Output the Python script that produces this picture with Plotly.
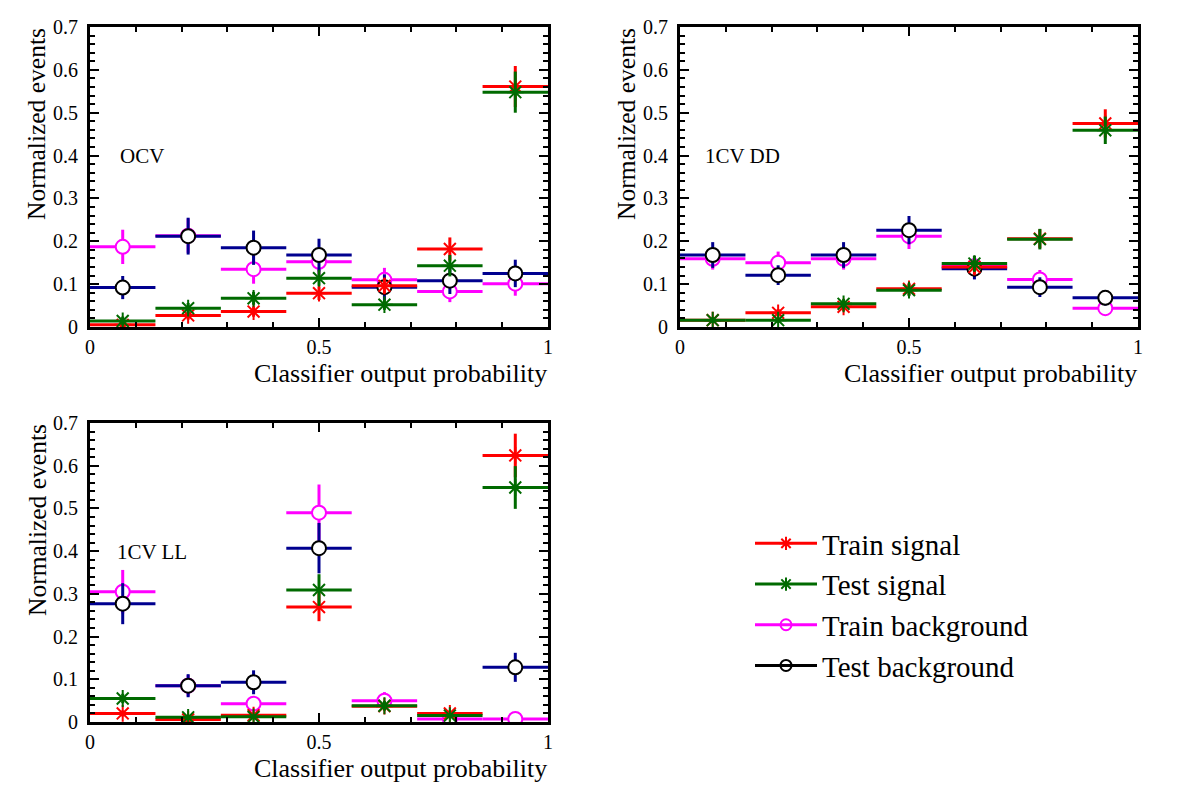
import numpy as np
import plotly.graph_objects as go

# ---------------- data ----------------
bin_edges = [0, 1/7, 2/7, 3/7, 4/7, 5/7, 6/7, 1]
panel_labels = ["OCV", "1CV DD", "1CV LL"]
series_names = ["Train signal", "Test signal", "Train background", "Test background"]

# OCV
ocv_train_sig = [0.005, 0.027, 0.036, 0.079, 0.096, 0.182, 0.561]
ocv_train_sig_err = [0.004, 0.010, 0.012, 0.016, 0.018, 0.027, 0.048]
ocv_test_sig = [0.014, 0.044, 0.067, 0.114, 0.052, 0.143, 0.548]
ocv_test_sig_err = [0.010, 0.012, 0.015, 0.018, 0.012, 0.025, 0.048]
ocv_train_bkg = [0.187, 0.213, 0.135, 0.152, 0.110, 0.083, 0.101]
ocv_train_bkg_err = [0.040, 0.040, 0.034, 0.032, 0.028, 0.025, 0.028]
ocv_test_bkg = [0.092, 0.212, 0.185, 0.168, 0.093, 0.108, 0.125]
ocv_test_bkg_err = [0.027, 0.043, 0.040, 0.038, 0.030, 0.031, 0.032]

# 1CV DD
dd_train_sig = [0.016, 0.033, 0.047, 0.089, 0.140, 0.206, 0.475]
dd_train_sig_err = [0.006, 0.009, 0.010, 0.014, 0.018, 0.022, 0.033]
dd_test_sig = [0.016, 0.016, 0.054, 0.086, 0.148, 0.205, 0.459]
dd_test_sig_err = [0.006, 0.006, 0.011, 0.014, 0.018, 0.024, 0.032]
dd_train_bkg = [0.159, 0.150, 0.159, 0.212, 0.142, 0.111, 0.044]
dd_train_bkg_err = [0.025, 0.026, 0.025, 0.030, 0.024, 0.022, 0.013]
dd_test_bkg = [0.168, 0.121, 0.168, 0.226, 0.136, 0.093, 0.068]
dd_test_bkg_err = [0.030, 0.023, 0.030, 0.033, 0.025, 0.023, 0.018]

# 1CV LL
ll_train_sig = [0.020, 0.006, 0.016, 0.269, 0.037, 0.020, 0.624]
ll_train_sig_err = [0.007, 0.004, 0.006, 0.033, 0.010, 0.007, 0.051]
ll_test_sig = [0.055, 0.011, 0.012, 0.309, 0.038, 0.015, 0.549]
ll_test_sig_err = [0.011, 0.005, 0.005, 0.037, 0.011, 0.006, 0.050]
ll_train_bkg = [0.305, 0.085, 0.043, 0.490, 0.050, 0.007, 0.007]
ll_train_bkg_err = [0.051, 0.025, 0.015, 0.066, 0.020, 0.005, 0.005]
ll_test_bkg = [0.277, 0.085, 0.093, 0.407, None, None, 0.128]
ll_test_bkg_err = [0.048, 0.027, 0.028, 0.059, 0, 0, 0.034]

panels = [
    (ocv_train_sig, ocv_train_sig_err, ocv_test_sig, ocv_test_sig_err,
     ocv_train_bkg, ocv_train_bkg_err, ocv_test_bkg, ocv_test_bkg_err),
    (dd_train_sig, dd_train_sig_err, dd_test_sig, dd_test_sig_err,
     dd_train_bkg, dd_train_bkg_err, dd_test_bkg, dd_test_bkg_err),
    (ll_train_sig, ll_train_sig_err, ll_test_sig, ll_test_sig_err,
     ll_train_bkg, ll_train_bkg_err, ll_test_bkg, ll_test_bkg_err),
]

# ---------------- styling ----------------
W, H = 1182, 796
FONT = "Liberation Serif"
RED = "#ff0000"
GREEN = "#006a00"
MAGENTA = "#ff00ff"
BLUE = "#00008f"
BLACK = "#000000"

edges = np.array(bin_edges)
centers = (edges[:-1] + edges[1:]) / 2
half_w = (edges[1] - edges[0]) / 2

def px_x(p):
    return p / W

def px_y(p):
    return 1 - p / H

# panel domains (pixels) and label offsets
dom = [
    dict(x=(90, 548), y=(27, 327), lab=28),
    dict(x=(680, 1138), y=(27, 327), lab=23),
    dict(x=(90, 548), y=(423, 722), lab=25),
]

fig = go.Figure()

def add_series(idx, y, err, symbol, mcolor, mfill, msize, ecolor):
    ax = "" if idx == 0 else str(idx + 1)
    fig.add_trace(go.Scatter(
        x=centers, y=y, mode="markers",
        xaxis="x" + ax, yaxis="y" + ax,
        marker=dict(symbol=symbol, size=msize, color=mfill,
                    line=dict(color=mcolor, width=2)),
        error_x=dict(type="constant", value=half_w, width=0, thickness=3, color=ecolor),
        error_y=dict(type="data", array=err, width=0, thickness=3, color=ecolor),
        showlegend=False,
    ))

for i, p in enumerate(panels):
    tsig, tsig_e, vsig, vsig_e, tbkg, tbkg_e, vbkg, vbkg_e = p
    add_series(i, tbkg, tbkg_e, "circle", MAGENTA, "white", 14, MAGENTA)
    add_series(i, vbkg, vbkg_e, "circle", BLACK, "white", 14, BLUE)
    add_series(i, tsig, tsig_e, "asterisk-open", RED, RED, 14, RED)
    add_series(i, vsig, vsig_e, "asterisk-open", GREEN, GREEN, 14, GREEN)

# legend entries
leg_style = [
    (RED, "asterisk-open"),
    (GREEN, "asterisk-open"),
    (MAGENTA, "circle-open"),
    (BLACK, "circle-open"),
]
for name, (c, sym) in zip(series_names, leg_style):
    fig.add_trace(go.Scatter(
        x=[None], y=[None], mode="lines+markers", name=name,
        line=dict(color=c, width=3),
        marker=dict(symbol=sym, size=11, color=c, line=dict(color=c, width=2)),
        xaxis="x3", yaxis="y3",
    ))

axis_common = dict(
    showline=True, linewidth=3, linecolor=BLACK, mirror="ticks",
    ticks="inside", ticklen=9, tickwidth=1.5, tickcolor=BLACK,
    showgrid=False, zeroline=False, automargin=False,
    tickfont=dict(family=FONT, size=20, color=BLACK),
)

layout = dict(
    width=W, height=H,
    margin=dict(l=0, r=0, t=0, b=0),
    paper_bgcolor="white", plot_bgcolor="white",
    font=dict(family=FONT, color=BLACK),
    showlegend=True,
    legend=dict(
        x=px_x(750), y=px_y(518), xanchor="left", yanchor="top",
        font=dict(family=FONT, size=29, color=BLACK),
        bgcolor="rgba(0,0,0,0)", tracegroupgap=0, itemwidth=62,
    ),
)

for i, d in enumerate(dom):
    ax = "" if i == 0 else str(i + 1)
    layout["xaxis" + ax] = dict(
        axis_common, range=[0, 1], dtick=0.5, tick0=0,
        domain=[px_x(d["x"][0]), px_x(d["x"][1])],
        anchor="y" + ax, ticklabelstandoff=0,
        minor=dict(dtick=0.1, ticks="inside", ticklen=5, tickwidth=1.5, tickcolor=BLACK),
    )
    layout["yaxis" + ax] = dict(
        axis_common, range=[0, 0.7], dtick=0.1, tick0=0,
        domain=[px_y(d["y"][1]), px_y(d["y"][0])],
        anchor="x" + ax, ticklabelstandoff=5,
        minor=dict(dtick=0.02, ticks="inside", ticklen=5, tickwidth=1.5, tickcolor=BLACK),
    )

fig.update_layout(**layout)

# axis titles and panel labels
ann = []
for i, d in enumerate(dom):
    x0, x1 = d["x"]
    y0, y1 = d["y"]
    ann.append(dict(text="Classifier output probability", x=px_x(x1 + 1), y=px_y(y1 + 46),
                    xref="paper", yref="paper", xanchor="right", yanchor="middle",
                    showarrow=False, font=dict(family=FONT, size=26, color=BLACK)))
    ann.append(dict(text="Normalized events", x=px_x(x0 - 53), y=px_y(y0 - 1),
                    xref="paper", yref="paper", xanchor="center", yanchor="top",
                    textangle=-90, showarrow=False,
                    font=dict(family=FONT, size=25.5, color=BLACK)))
    ann.append(dict(text=panel_labels[i], x=px_x(x0 + d["lab"]), y=px_y(y0 + 129),
                    xref="paper", yref="paper", xanchor="left", yanchor="middle",
                    showarrow=False, font=dict(family=FONT, size=21, color=BLACK)))
fig.update_layout(annotations=ann)

fig.write_html("out.html")
